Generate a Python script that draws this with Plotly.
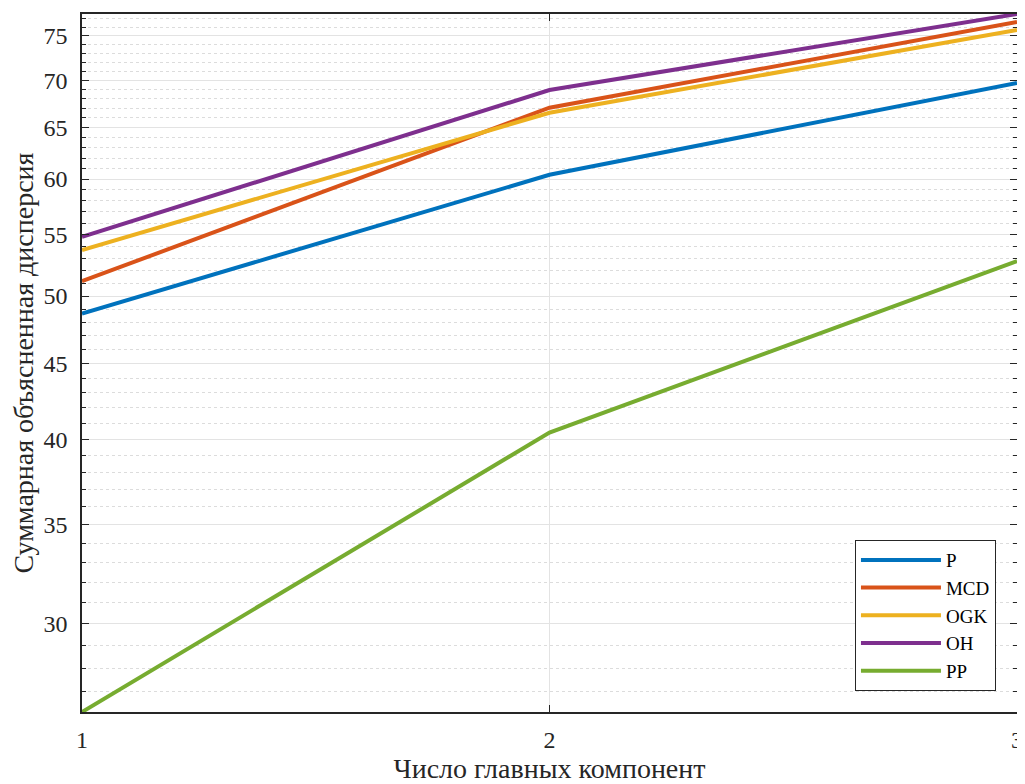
import plotly.graph_objects as go
import math

components = [1, 2, 3]
series_names = ["P", "MCD", "OGK", "OH", "PP"]
P = [48.66, 60.4, 69.7]
MCD = [51.17, 67.06, 76.65]
OGK = [53.72, 66.53, 75.7]
OH = [54.84, 68.93, 77.6]
PP = [26.15, 40.42, 52.8]
colors = ["#0072BD", "#D95319", "#EDB120", "#7E2F8E", "#77AC30"]
y_ticks = [30, 35, 40, 45, 50, 55, 60, 65, 70, 75]
x_ticks = [1, 2, 3]

all_vals = P + MCD + OGK + OH + PP
ymin, ymax = min(all_vals), max(all_vals)
minor_vals = [v for v in range(int(math.ceil(ymin)), int(math.floor(ymax)) + 1) if v not in y_ticks]

fig = go.Figure()
for name, vals, c in zip(series_names, [P, MCD, OGK, OH, PP], colors):
    fig.add_trace(go.Scatter(x=components, y=vals, mode="lines", name=name,
                             line=dict(color=c, width=4)))

axis_col = "#262626"
font = "Liberation Serif, Times New Roman, serif"
fig.update_layout(
    width=1017, height=776,
    margin=dict(l=74, r=8, t=6, b=72),
    paper_bgcolor="white", plot_bgcolor="white",
    font=dict(family=font, color=axis_col),
    showlegend=True,
    legend=dict(x=0.9775, y=0.03, xanchor="right", yanchor="bottom",
                bgcolor="white", bordercolor=axis_col, borderwidth=1,
                font=dict(family=font, size=19, color="#000000"),
                tracegroupgap=0, itemwidth=80),
    xaxis=dict(range=[1, 3], tickvals=x_ticks, ticktext=[str(v) for v in x_ticks],
               automargin=False,
               showline=True, linecolor=axis_col, linewidth=1.5, mirror="ticks",
               ticks="inside", ticklen=7, tickcolor=axis_col,
               showgrid=True, gridcolor="#e3e3e3", gridwidth=1, zeroline=False,
               tickfont=dict(size=24, family=font, color=axis_col),
               ticklabelstandoff=5,
               title=dict(text="Число главных компонент", font=dict(size=28, family=font, color=axis_col), standoff=17)),
    yaxis=dict(type="log", range=[math.log10(ymin), math.log10(ymax)],
               tickvals=y_ticks, ticktext=[str(v) for v in y_ticks],
               automargin=False,
               showline=True, linecolor=axis_col, linewidth=1.5, mirror="ticks",
               ticks="inside", ticklen=7, tickcolor=axis_col,
               showgrid=True, gridcolor="#e3e3e3", gridwidth=1, zeroline=False,
               tickfont=dict(size=24, family=font, color=axis_col),
               ticklabelstandoff=8,
               minor=dict(tickvals=minor_vals, ticks="inside", ticklen=4, tickcolor=axis_col,
                          showgrid=True, gridcolor="#dcdcdc", griddash="dot", gridwidth=1),
               title=dict(text="Суммарная объясненная дисперсия", font=dict(size=28, family=font, color=axis_col), standoff=10)),
)

fig.write_html("out.html")
